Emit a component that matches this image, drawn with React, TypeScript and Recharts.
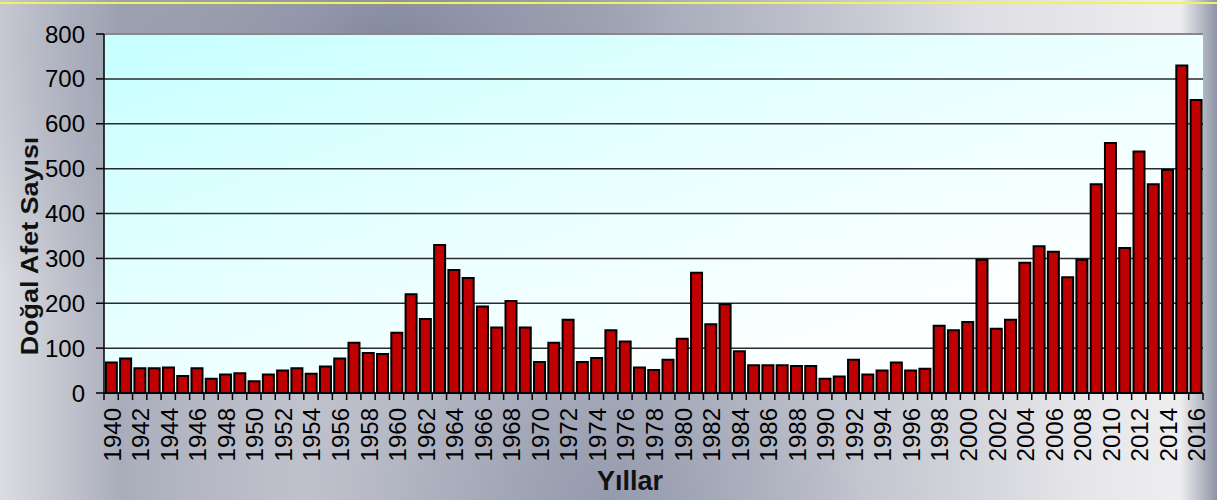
import React from "react"
import { BarChart, Bar, XAxis, YAxis, CartesianGrid, ReferenceLine, Label } from "recharts"

const years = [
  "1940", "1941", "1942", "1943", "1944", "1945", "1946", "1947", "1948", "1949",
  "1950", "1951", "1952", "1953", "1954", "1955", "1956", "1957", "1958", "1959",
  "1960", "1961", "1962", "1963", "1964", "1965", "1966", "1967", "1968", "1969",
  "1970", "1971", "1972", "1973", "1974", "1975", "1976", "1977", "1978", "1979",
  "1980", "1981", "1982", "1983", "1984", "1985", "1986", "1987", "1988", "1989",
  "1990", "1991", "1992", "1993", "1994", "1995", "1996", "1997", "1998", "1999",
  "2000", "2001", "2002", "2003", "2004", "2005", "2006", "2007", "2008", "2009",
  "2010", "2011", "2012", "2013", "2014", "2015", "2016",
]

const disasterCounts = [
  68, 77, 55, 55, 57, 38, 55, 32, 41, 44,
  26, 41, 50, 55, 43, 59, 77, 112, 89, 87,
  134, 220, 165, 330, 274, 256, 193, 146, 205, 146,
  69, 112, 163, 69, 78, 140, 115, 57, 51, 74,
  121, 268, 153, 198, 93, 62, 62, 62, 60, 60,
  32, 37, 74, 41, 50, 68, 50, 54, 150, 140,
  158, 297, 143, 163, 290, 327, 315, 258, 297, 465,
  557, 323, 538, 465, 497, 730, 653,
]

const yTicks = [0, 100, 200, 300, 400, 500, 600, 700, 800]

const data = years.map((year, i) => ({ year, count: disasterCounts[i] }))

const W = 1217
const H = 500
const LEFT = 104
const RIGHT_MARGIN = 14
const PLOT_W = W - LEFT - RIGHT_MARGIN
const FONT = "'Liberation Sans', Arial, sans-serif"

function YearTick(props: any) {
  const { x, y, index, payload } = props
  const step = PLOT_W / years.length
  return (
    <g>
      <line x1={x - step / 2} x2={x - step / 2} y1={y} y2={y + 7} stroke="#000" strokeWidth={1.5} />
      {index === years.length - 1 && (
        <line x1={x + step / 2} x2={x + step / 2} y1={y} y2={y + 7} stroke="#000" strokeWidth={1.5} />
      )}
      {index % 2 === 0 && (
        <text
          transform={`translate(${x + 1},${y + 15}) rotate(-90)`}
          textAnchor="end"
          dominantBaseline="central"
          fontSize={24}
          fontFamily={FONT}
          fill="#000"
        >
          {payload.value}
        </text>
      )}
    </g>
  )
}

export default function App() {
  return (
    <div
      style={{
        position: "absolute",
        left: 0,
        top: 0,
        width: W,
        height: H,
        background:
          "radial-gradient(ellipse at 32% 8%, rgba(120,126,148,0.85) 0%, rgba(140,146,166,0.4) 25%, rgba(255,255,255,0) 50%)," +
          "radial-gradient(ellipse at 50% 100%, rgba(140,146,166,0.8) 0%, rgba(160,164,180,0.3) 30%, rgba(255,255,255,0) 55%)," +
          "linear-gradient(90deg, #dcdde2 0%, #a9adbb 10%, #c8cad3 25%, #b8bcc8 50%, #d8d9df 75%, #eeeef0 97%, #8e94a6 100%)",
      }}
    >
      <div style={{ position: "absolute", left: 0, top: 2, width: W, height: 2, background: "#f4f060" }} />
      <div style={{ position: "absolute", left: 0, top: 0 }}>
        <BarChart
          width={W}
          height={H}
          data={data}
          margin={{ top: 34, right: RIGHT_MARGIN, bottom: 0, left: 0 }}
          barCategoryGap="13%"
        >
          <defs>
            <linearGradient id="plotBg" x1="0" y1="0" x2="1" y2="1">
              <stop offset="0%" stopColor="#c6ffff" />
              <stop offset="45%" stopColor="#eaffff" />
              <stop offset="75%" stopColor="#fbffff" />
              <stop offset="100%" stopColor="#ffffff" />
            </linearGradient>
          </defs>
          <CartesianGrid
            vertical={false}
            fill="url(#plotBg)"
            fillOpacity={1}
            stroke="#2a2a2a"
            strokeWidth={1.5}
          />
          <XAxis
            dataKey="year"
            height={107}
            interval={0}
            tickLine={false}
            tickSize={0}
            tickMargin={0}
            axisLine={{ stroke: "#000", strokeWidth: 1.5 }}
            tick={<YearTick />}
          >
            <Label
              content={() => (
                <text x={630} y={490} textAnchor="middle" fontSize={27} fontWeight="bold" fontFamily={FONT} fill="#111">
                  Yıllar
                </text>
              )}
            />
          </XAxis>
          <YAxis
            width={LEFT}
            domain={[0, 800]}
            ticks={yTicks}
            interval={0}
            tickSize={8}
            tickMargin={11}
            axisLine={{ stroke: "#000", strokeWidth: 1.5 }}
            tickLine={{ stroke: "#000", strokeWidth: 1.5 }}
            tick={{ fontSize: 24, fontFamily: FONT, fill: "#000" }}
          >
            <Label
              content={() => (
                <text
                  transform="translate(30,246) rotate(-90) scale(1.17,1)"
                  textAnchor="middle"
                  dominantBaseline="central"
                  fontSize={23}
                  fontWeight="bold"
                  fontFamily={FONT}
                  fill="#111"
                >
                  Doğal Afet Sayısı
                </text>
              )}
            />
          </YAxis>
          <YAxis
            yAxisId="frame"
            orientation="right"
            width={0}
            domain={[0, 800]}
            tick={false}
            tickLine={false}
            axisLine={{ stroke: "#888", strokeWidth: 2 }}
          />
          <ReferenceLine y={800} stroke="#888" strokeWidth={2} />
          <Bar
            dataKey="count"
            fill="#c00000"
            stroke="#000"
            strokeWidth={2}
            isAnimationActive={false}
          />
        </BarChart>
      </div>
    </div>
  )
}
